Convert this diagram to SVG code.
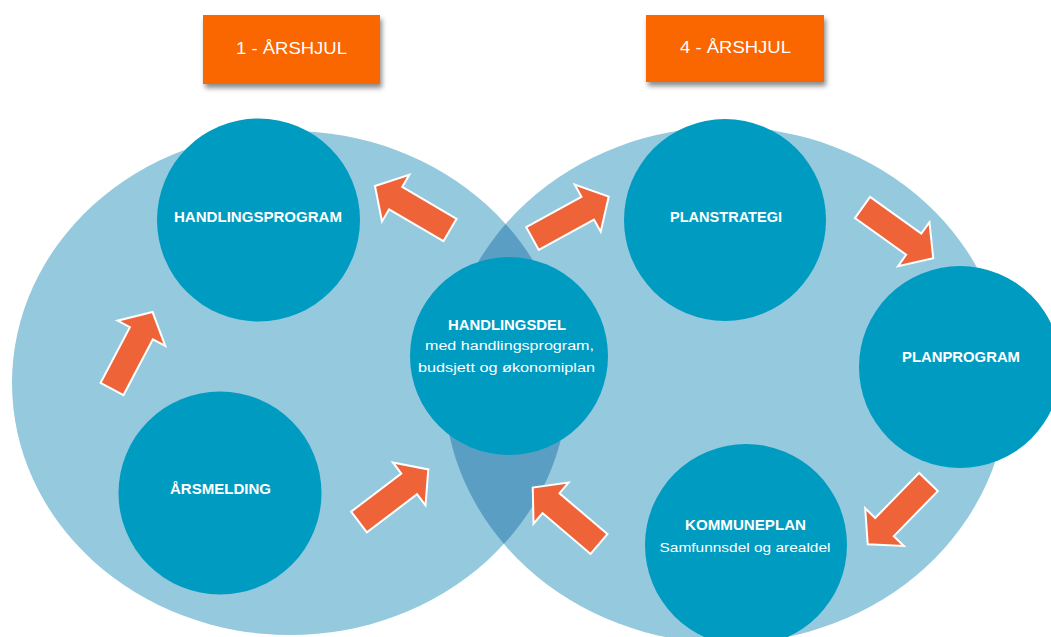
<svg xmlns="http://www.w3.org/2000/svg" xmlns:xlink="http://www.w3.org/1999/xlink" width="1051" height="637" viewBox="0 0 1051 637">
<style>
.big{fill:#95c9de}
.lens{fill:#5a9fc3}
.node{fill:#009bc1}
.t{font-family:"Liberation Sans",Arial,sans-serif;fill:#ffffff;text-anchor:middle}
.b{font-weight:bold;font-size:15px}
.n{font-size:13.5px}
.box{fill:#fa6604}
.bt{font-family:"Liberation Sans",Arial,sans-serif;fill:#ffffff;font-size:17px;text-anchor:middle}
.arr{fill:#ef6338;stroke:#ffffff;stroke-width:2;stroke-linejoin:miter}
</style>
<defs>
<filter id="sh" x="-10%" y="-10%" width="130%" height="140%">
<feDropShadow dx="2" dy="4" stdDeviation="2.5" flood-color="#000000" flood-opacity="0.45"/>
</filter>
<clipPath id="clipR"><ellipse cx="726" cy="385" rx="282" ry="258"/></clipPath>
<path id="arr" d="M0,-13 H63 V-27 L87,0 L63,27 V13 H0 Z"/>
</defs>
<rect x="0" y="0" width="1051" height="637" fill="#ffffff"/>

<g id="wheels">
<ellipse class="big" cx="290" cy="383" rx="278" ry="252"/>
<ellipse class="big" cx="726" cy="385" rx="282" ry="258"/>
<ellipse class="lens" cx="290" cy="383" rx="278" ry="252" clip-path="url(#clipR)"/>
</g>

<g id="title-1">
<rect class="box" x="203" y="15" width="177" height="69" filter="url(#sh)"/>
<text class="bt" x="291.5" y="54" textLength="111" lengthAdjust="spacingAndGlyphs">1 - ÅRSHJUL</text>
</g>
<g id="title-4">
<rect class="box" x="646" y="15" width="178" height="67" filter="url(#sh)"/>
<text class="bt" x="735.5" y="53" textLength="111" lengthAdjust="spacingAndGlyphs">4 - ÅRSHJUL</text>
</g>

<g id="connectors">
<use xlink:href="#arr" class="arr" transform="translate(112,389) rotate(-62.2)"/>
<use xlink:href="#arr" class="arr" transform="translate(450,230) rotate(210.4)"/>
<use xlink:href="#arr" class="arr" transform="translate(359,522) rotate(-37.2)"/>
<use xlink:href="#arr" class="arr" transform="translate(599,544) rotate(220.4)"/>
<use xlink:href="#arr" class="arr" transform="translate(532.5,238.5) rotate(-28.8)"/>
<use xlink:href="#arr" class="arr" transform="translate(862.5,207.5) rotate(35.6)"/>
<use xlink:href="#arr" class="arr" transform="translate(928.5,482) rotate(134.3)"/>
</g>

<g id="handlingsprogram">
<circle class="node" cx="258.5" cy="220" r="101.5"/>
<text class="t b" x="258" y="222" textLength="168" lengthAdjust="spacingAndGlyphs">HANDLINGSPROGRAM</text>
</g>
<g id="arsmelding">
<circle class="node" cx="220" cy="493" r="101.5"/>
<text class="t b" x="220.5" y="494" textLength="101" lengthAdjust="spacingAndGlyphs">ÅRSMELDING</text>
</g>
<g id="handlingsdel">
<circle class="node" cx="509" cy="356" r="99"/>
<text class="t b" x="507" y="330" textLength="118" lengthAdjust="spacingAndGlyphs">HANDLINGSDEL</text>
<text class="t n" x="509.5" y="350" textLength="169" lengthAdjust="spacingAndGlyphs">med handlingsprogram,</text>
<text class="t n" x="506.5" y="372" textLength="177" lengthAdjust="spacingAndGlyphs">budsjett og økonomiplan</text>
</g>
<g id="planstrategi">
<circle class="node" cx="725" cy="220" r="101"/>
<text class="t b" x="726" y="222" textLength="112" lengthAdjust="spacingAndGlyphs">PLANSTRATEGI</text>
</g>
<g id="planprogram">
<circle class="node" cx="960" cy="367" r="101"/>
<text class="t b" x="961" y="362" textLength="118" lengthAdjust="spacingAndGlyphs">PLANPROGRAM</text>
</g>
<g id="kommuneplan">
<circle class="node" cx="746" cy="545" r="101"/>
<text class="t b" x="745.5" y="530" textLength="121" lengthAdjust="spacingAndGlyphs">KOMMUNEPLAN</text>
<text class="t n" x="745" y="552" textLength="171" lengthAdjust="spacingAndGlyphs">Samfunnsdel og arealdel</text>
</g>
</svg>
